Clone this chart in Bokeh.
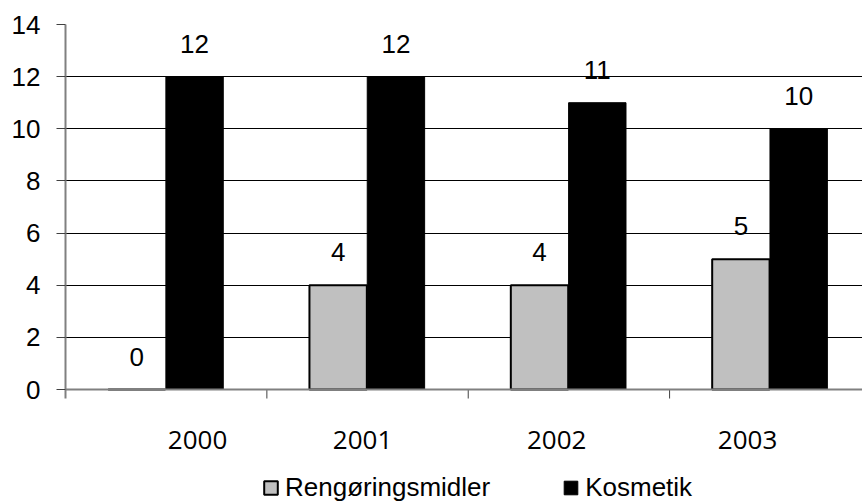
from bokeh.plotting import figure
from bokeh.models import Range1d, FixedTicker, Grid, Legend, LegendItem, ColumnDataSource, Span
from bokeh.core.properties import value
from bokeh.embed import file_html
from bokeh.resources import INLINE

years = ["2000", "2001", "2002", "2003"]
rengoering = [0, 4, 4, 5]
kosmetik = [12, 12, 11, 10]
y_ticks = [0, 2, 4, 6, 8, 10, 12, 14]

# layout constants
label_offsets = [0.656, 0.475, 0.439, 0.387]
bar_w = 0.285
grey_off = 0.354
black_off = 0.641
px_per_unit = 365 / 14.0
y_bottom = -114 / px_per_unit      # room below the zero line for labels + legend
tick_len = 9 / px_per_unit

idx = list(range(len(years)))
src_r = ColumnDataSource(dict(x=[i + grey_off for i in idx], y=rengoering,
                              t=[str(v) for v in rengoering]))
src_k = ColumnDataSource(dict(x=[i + black_off for i in idx], y=kosmetik,
                              t=[str(v) for v in kosmetik]))

p = figure(frame_width=797, frame_height=479, x_range=Range1d(0, 3.958),
           y_range=Range1d(y_bottom, 14), output_backend="svg", toolbar_location=None,
           x_axis_location=None,
           min_border_left=65, min_border_right=0, min_border_top=24,
           min_border_bottom=0)
p.outline_line_color = None
p.background_fill_color = "white"
p.xgrid.visible = False
p.ygrid.ticker = FixedTicker(ticks=y_ticks[1:-1])
p.ygrid.grid_line_color = "black"
p.ygrid.grid_line_width = 1
top = Grid(dimension=1, ticker=FixedTicker(ticks=[y_ticks[-1]]),
           grid_line_color="#808080", grid_line_width=2)
p.add_layout(top)

r1 = p.vbar(x="x", top="y", width=bar_w, source=src_r, fill_color="#C0C0C0",
            line_color="black", line_width=2)
r2 = p.vbar(x="x", top="y", width=bar_w, source=src_k, fill_color="black",
            line_color="black", line_width=1)

# x axis line, category tick marks, category labels
p.add_layout(Span(location=0, dimension="width", line_color="#808080", line_width=2))
bounds = [i + 1 for i in idx]
p.segment(x0=bounds, y0=[0] * len(bounds), x1=bounds, y1=[-tick_len] * len(bounds),
          line_color="#404040", line_width=1)
label_pos = [i + o for i, o in zip(idx, label_offsets)]
p.text(x=label_pos, y=[0] * len(years), text=years, text_align="center",
       text_baseline="alphabetic", y_offset=50, text_font=value("Open Sans"),
       text_font_size="26px", text_color="black")

for s in (src_r, src_k):
    p.text(x="x", y="y", text="t", source=s, text_align="center",
           text_baseline="alphabetic", y_offset=-33,
           text_font=value("Liberation Sans"), text_font_size="26px",
           text_color="black")

# y axis
ya = p.yaxis[0]
ya.ticker = FixedTicker(ticks=y_ticks)
ya.bounds = (-tick_len, 14)
ya.axis_line_color = "#808080"
ya.axis_line_width = 2
ya.major_tick_out = 9
ya.major_tick_in = 0
ya.major_tick_line_color = "#404040"
ya.minor_tick_line_color = None
ya.major_label_text_font = "Liberation Sans"
ya.major_label_text_font_size = "26px"
ya.major_label_text_color = "black"
ya.major_label_standoff = 16

legend = Legend(items=[LegendItem(label="Rengøringsmidler", renderers=[r1]),
                       LegendItem(label="Kosmetik", renderers=[r2])],
                orientation="horizontal", location=(197, 0),
                label_text_font="Liberation Sans", label_text_font_size="26px",
                label_text_color="black",
                glyph_width=17, glyph_height=17, label_standoff=6, spacing=72,
                border_line_color=None, background_fill_alpha=0,
                padding=0, margin=0)
p.add_layout(legend, "center")

open("out.html", "w").write(file_html(p, INLINE))
